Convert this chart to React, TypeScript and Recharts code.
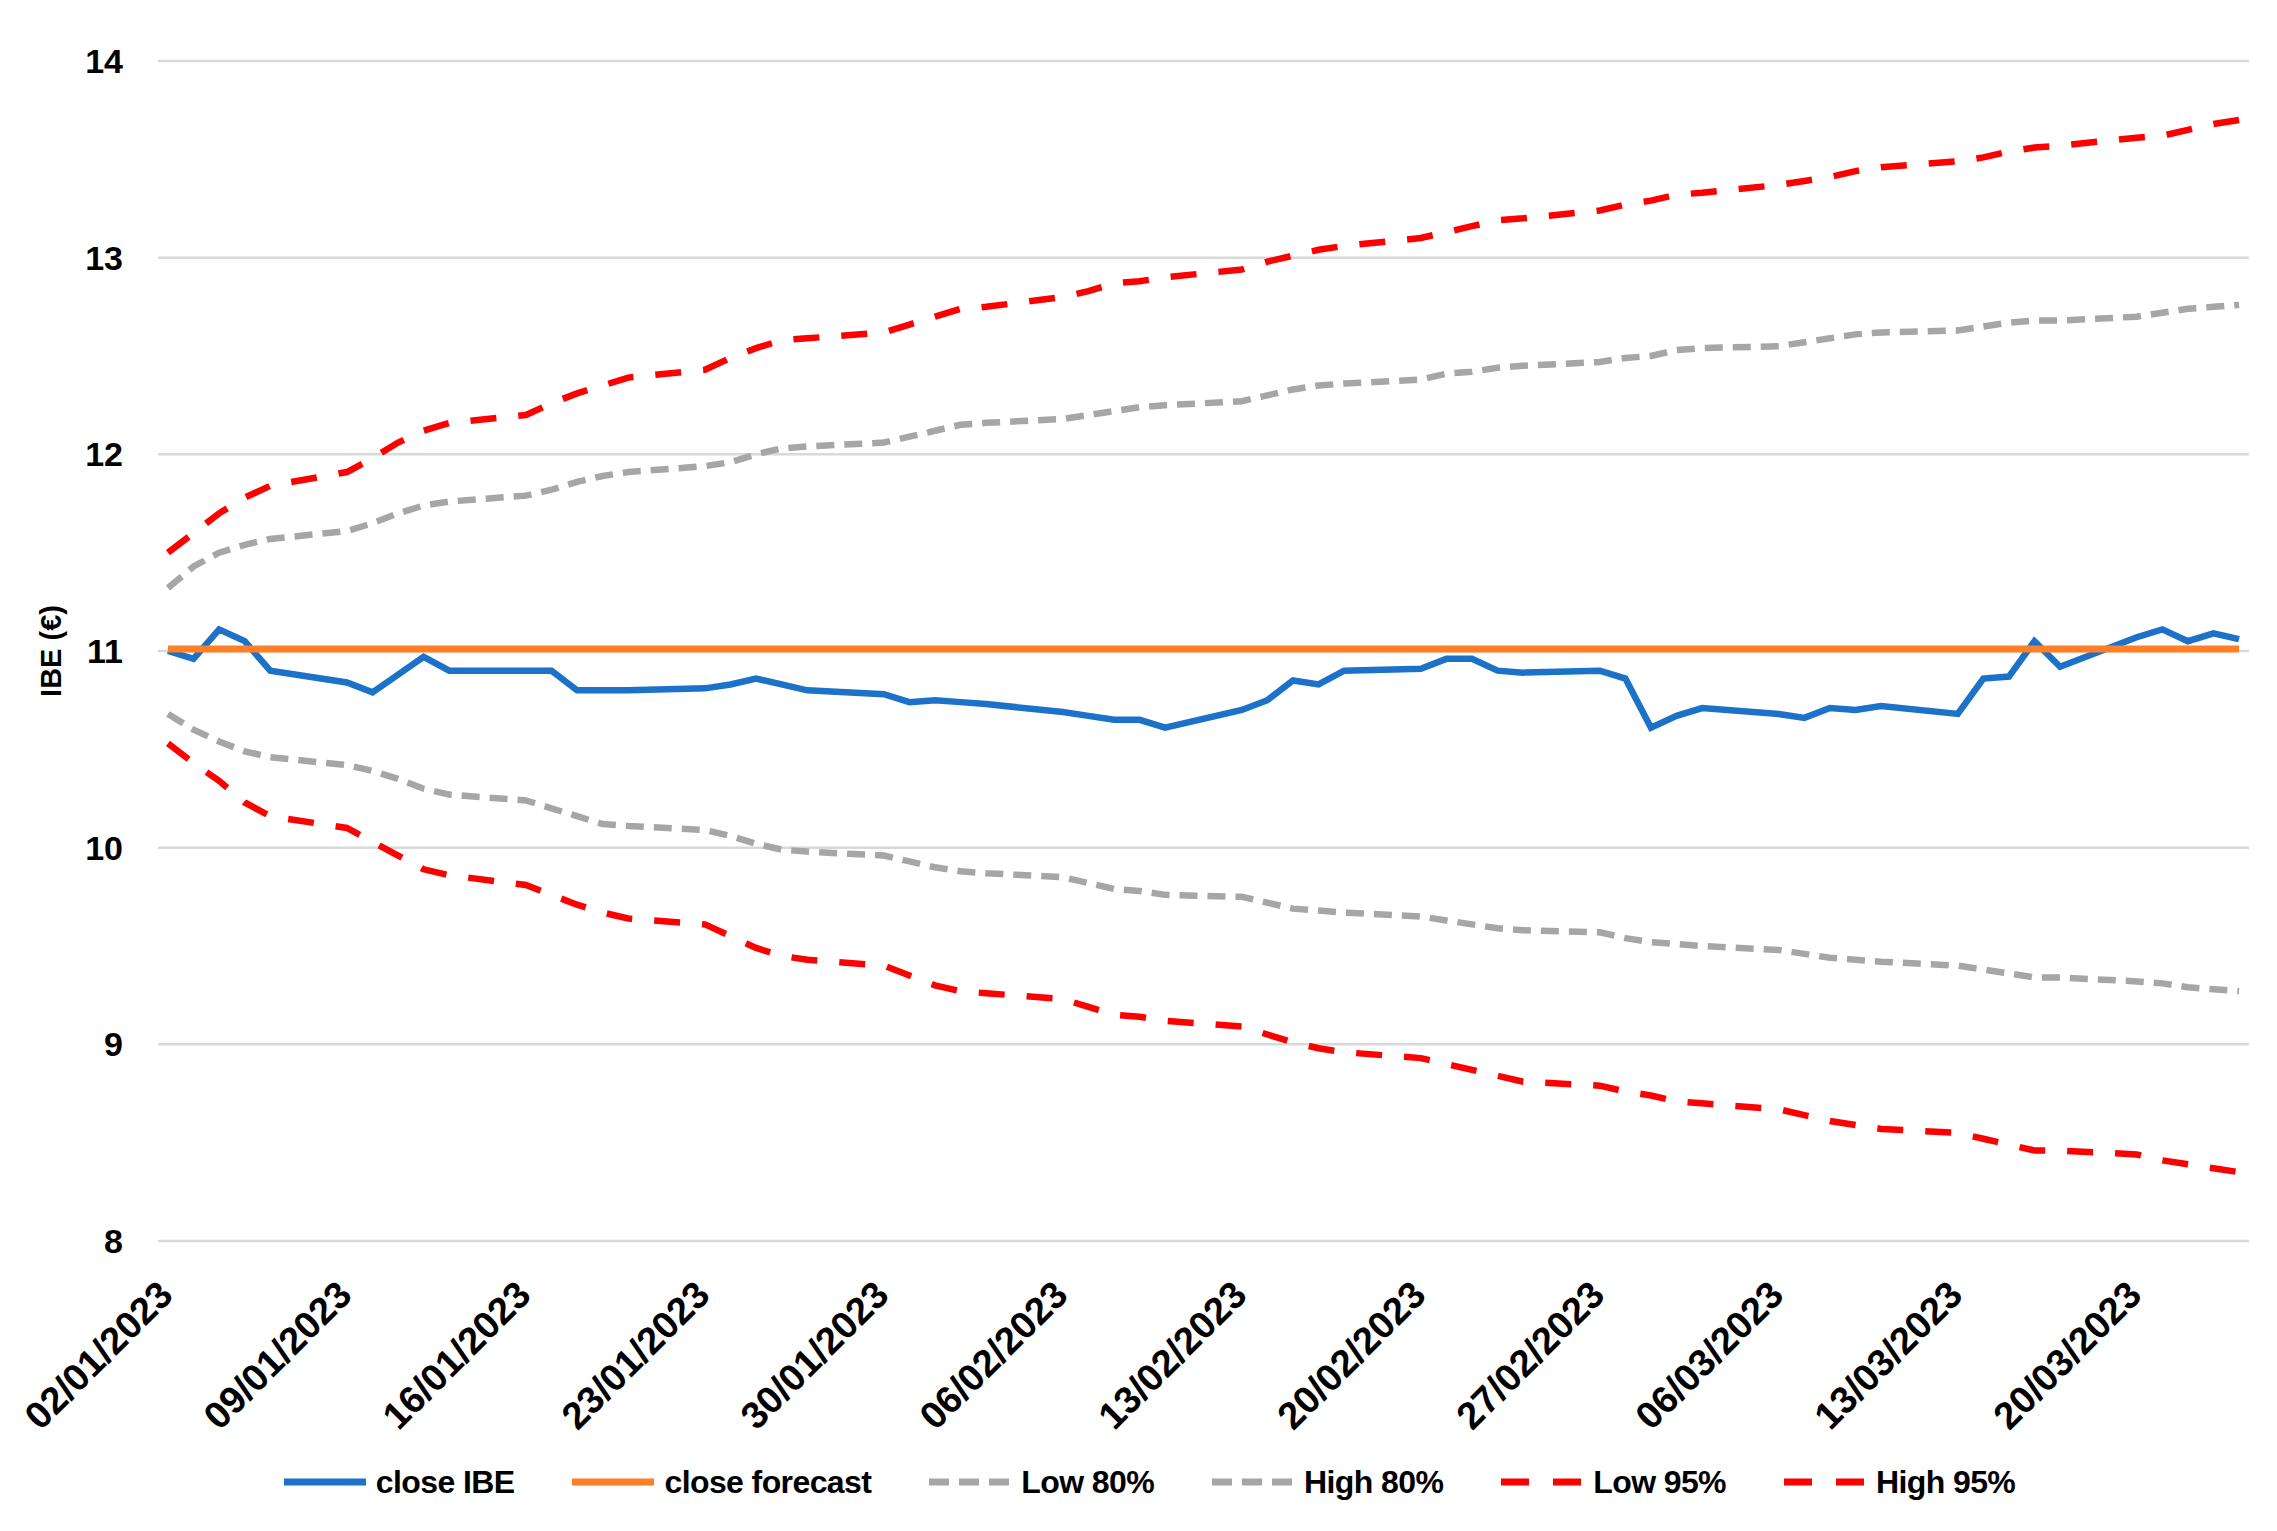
import React from 'react'
import { LineChart, Line, XAxis, YAxis, CartesianGrid, Legend, Label } from 'recharts'

// trading days shown in the chart (Excel date axis, weekends are gaps)
const tradingDates = [
  '02/01/2023', '03/01/2023', '04/01/2023', '05/01/2023', '06/01/2023',
  '09/01/2023', '10/01/2023', '11/01/2023', '12/01/2023', '13/01/2023',
  '16/01/2023', '17/01/2023', '18/01/2023', '19/01/2023', '20/01/2023',
  '23/01/2023', '24/01/2023', '25/01/2023', '26/01/2023', '27/01/2023',
  '30/01/2023', '31/01/2023', '01/02/2023', '02/02/2023', '03/02/2023',
  '06/02/2023', '07/02/2023', '08/02/2023', '09/02/2023', '10/02/2023',
  '13/02/2023', '14/02/2023', '15/02/2023', '16/02/2023', '17/02/2023',
  '20/02/2023', '21/02/2023', '22/02/2023', '23/02/2023', '24/02/2023',
  '27/02/2023', '28/02/2023', '01/03/2023', '02/03/2023', '03/03/2023',
  '06/03/2023', '07/03/2023', '08/03/2023', '09/03/2023', '10/03/2023',
  '13/03/2023', '14/03/2023', '15/03/2023', '16/03/2023', '17/03/2023',
  '20/03/2023', '21/03/2023', '22/03/2023', '23/03/2023', '24/03/2023',
]

const closeIBE = [
  11.0, 10.96, 11.11, 11.05, 10.9,
  10.84, 10.79, 10.88, 10.97, 10.9,
  10.9, 10.9, 10.8, 10.8, 10.8,
  10.81, 10.83, 10.86, 10.83, 10.8,
  10.78, 10.74, 10.75, 10.74, 10.73,
  10.69, 10.67, 10.65, 10.65, 10.61,
  10.7, 10.75, 10.85, 10.83, 10.9,
  10.91, 10.96, 10.96, 10.9, 10.89,
  10.9, 10.86, 10.61, 10.67, 10.71,
  10.68, 10.66, 10.71, 10.7, 10.72,
  10.68, 10.86, 10.87, 11.05, 10.92,
  11.07, 11.11, 11.05, 11.09, 11.06,
]

const closeForecast = tradingDates.map(() => 11.01)

const high95 = [
  11.5, 11.6, 11.7, 11.78, 11.84,
  11.91, 11.98, 12.06, 12.12, 12.16,
  12.2, 12.26, 12.31, 12.35, 12.39,
  12.43, 12.49, 12.54, 12.58, 12.59,
  12.62, 12.66, 12.7, 12.74, 12.75,
  12.8, 12.83, 12.87, 12.88, 12.9,
  12.94, 12.98, 13.01, 13.04, 13.06,
  13.1, 13.13, 13.16, 13.19, 13.2,
  13.24, 13.27, 13.29, 13.32, 13.33,
  13.37, 13.39, 13.41, 13.44, 13.46,
  13.49, 13.51, 13.54, 13.56, 13.57,
  13.61, 13.62, 13.65, 13.68, 13.7,
]

const high80 = [
  11.32, 11.43, 11.5, 11.54, 11.57,
  11.61, 11.65, 11.7, 11.74, 11.76,
  11.79, 11.82, 11.86, 11.89, 11.91,
  11.94, 11.96, 12.0, 12.03, 12.04,
  12.06, 12.09, 12.12, 12.15, 12.16,
  12.18, 12.2, 12.22, 12.24, 12.25,
  12.27, 12.3, 12.33, 12.35, 12.36,
  12.38, 12.41, 12.42, 12.44, 12.45,
  12.47, 12.49, 12.5, 12.53, 12.54,
  12.55, 12.57, 12.59, 12.61, 12.62,
  12.63, 12.65, 12.67, 12.68, 12.68,
  12.7, 12.72, 12.74, 12.75, 12.76,
]

const low80 = [
  10.68, 10.6, 10.54, 10.49, 10.46,
  10.42, 10.39, 10.35, 10.3, 10.27,
  10.24, 10.2, 10.16, 10.12, 10.11,
  10.09, 10.06, 10.02, 9.99, 9.98,
  9.96, 9.93, 9.9, 9.88, 9.87,
  9.85, 9.82, 9.79, 9.78, 9.76,
  9.75, 9.72, 9.69, 9.68, 9.67,
  9.65, 9.63, 9.61, 9.59, 9.58,
  9.57, 9.54, 9.52, 9.51, 9.5,
  9.48, 9.46, 9.44, 9.43, 9.42,
  9.4, 9.38, 9.36, 9.34, 9.34,
  9.32, 9.31, 9.29, 9.28, 9.27,
]

const low95 = [
  10.53, 10.43, 10.34, 10.23, 10.16,
  10.1, 10.03, 9.96, 9.89, 9.86,
  9.81, 9.76, 9.71, 9.67, 9.64,
  9.61, 9.55, 9.49, 9.45, 9.43,
  9.4, 9.35, 9.3, 9.27, 9.26,
  9.23, 9.19, 9.15, 9.14, 9.12,
  9.09, 9.05, 9.01, 8.98, 8.96,
  8.93, 8.9, 8.87, 8.84, 8.81,
  8.79, 8.76, 8.74, 8.71, 8.7,
  8.67, 8.64, 8.61, 8.59, 8.57,
  8.55, 8.52, 8.49, 8.46, 8.46,
  8.44, 8.41, 8.39, 8.37, 8.35,
]

const tickLabels = [
  '02/01/2023', '09/01/2023', '16/01/2023', '23/01/2023', '30/01/2023', '06/02/2023',
  '13/02/2023', '20/02/2023', '27/02/2023', '06/03/2023', '13/03/2023', '20/03/2023',
]

const yTicks = [8, 9, 10, 11, 12, 13, 14]

const DAY = 86400000
const parseDMY = (s: string) => {
  const [dd, mm, yy] = s.split('/').map(Number)
  return Date.UTC(yy, mm - 1, dd)
}
const origin = parseDMY(tradingDates[0])
const dayIndex = (s: string) => Math.round((parseDMY(s) - origin) / DAY)

const data = tradingDates.map((d, i) => ({
  day: dayIndex(d),
  closeIBE: closeIBE[i],
  closeForecast: closeForecast[i],
  low80: low80[i],
  high80: high80[i],
  low95: low95[i],
  high95: high95[i],
}))

const tickDays = tickLabels.map(dayIndex)
const lastDay = dayIndex(tradingDates[tradingDates.length - 1])

const FONT = "'Liberation Sans', Arial, sans-serif"

const BLUE = '#1c71c9'
const ORANGE = '#ff7f27'
const GREY = '#a6a6a6'
const RED = '#ff0000'

const legendItems = [
  { label: 'close IBE', color: BLUE, dash: undefined },
  { label: 'close forecast', color: ORANGE, dash: undefined },
  { label: 'Low 80%', color: GREY, dash: '20 10' },
  { label: 'High 80%', color: GREY, dash: '20 10' },
  { label: 'Low 95%', color: RED, dash: '28 24' },
  { label: 'High 95%', color: RED, dash: '28 24' },
]

function DateTick(props: any) {
  const { x, y, payload } = props
  const ax = x + 7
  const ay = y + 56
  const idx = tickDays.indexOf(payload.value)
  return (
    <text
      x={ax}
      y={ay}
      transform={`rotate(-45 ${ax} ${ay})`}
      textAnchor="end"
      fontFamily={FONT}
      fontWeight="bold"
      fontSize={38}
      fill="#000"
    >
      {idx >= 0 ? tickLabels[idx] : ''}
    </text>
  )
}

function ChartLegend() {
  return (
    <div
      style={{
        display: 'flex',
        justifyContent: 'center',
        alignItems: 'center',
        gap: 58,
        height: 100,
        paddingLeft: 50,
        paddingTop: 2,
        boxSizing: 'border-box',
        fontFamily: FONT,
        fontWeight: 'bold',
        fontSize: 32,
        letterSpacing: -0.6,
        color: '#000',
      }}
    >
      {legendItems.map((item) => (
        <div key={item.label} style={{ display: 'flex', alignItems: 'center' }}>
          <svg width={82} height={14} style={{ marginRight: 10 }}>
            <line
              x1={0}
              y1={7}
              x2={82}
              y2={7}
              stroke={item.color}
              strokeWidth={7}
              strokeDasharray={item.dash}
            />
          </svg>
          <span>{item.label}</span>
        </div>
      ))}
    </div>
  )
}

export default function App() {
  return (
    <div style={{ width: 2277, height: 1531, background: '#fff' }}>
      <style>{'body{margin:0;}'}</style>
      <LineChart
        width={2277}
        height={1531}
        data={data}
        margin={{ top: 61, right: 28, left: 0, bottom: 0 }}
      >
        <CartesianGrid vertical={false} stroke="#d9d9d9" strokeWidth={2.5} />
        <XAxis
          dataKey="day"
          type="number"
          domain={[-0.39, lastDay + 0.39]}
          ticks={tickDays}
          tick={<DateTick />}
          tickLine={false}
          axisLine={false}
          tickSize={0}
          tickMargin={0}
          height={190}
          interval={0}
          allowDataOverflow
        />
        <YAxis
          domain={[8, 14]}
          ticks={yTicks}
          width={158}
          tickLine={false}
          axisLine={false}
          tickSize={0}
          tickMargin={35}
          tick={{ fontFamily: FONT, fontWeight: 'bold', fontSize: 34, fill: '#000' }}
        >
          <Label
            content={() => (
              <text
                x={51}
                y={651}
                transform="rotate(-90 51 651)"
                textAnchor="middle"
                dominantBaseline="central"
                fontFamily={FONT}
                fontWeight="bold"
                fontSize={29}
                fill="#000"
              >
                IBE (€)
              </text>
            )}
          />
        </YAxis>
        <Legend verticalAlign="bottom" height={100} content={<ChartLegend />} />
        <Line type="linear" dataKey="closeIBE" stroke={BLUE} strokeWidth={6.5} dot={false} isAnimationActive={false} />
        <Line type="linear" dataKey="closeForecast" stroke={ORANGE} strokeWidth={7} dot={false} isAnimationActive={false} />
        <Line type="linear" dataKey="low80" stroke={GREY} strokeWidth={6.5} strokeDasharray="18 10" dot={false} isAnimationActive={false} />
        <Line type="linear" dataKey="high80" stroke={GREY} strokeWidth={6.5} strokeDasharray="18 10" dot={false} isAnimationActive={false} />
        <Line type="linear" dataKey="low95" stroke={RED} strokeWidth={6.5} strokeDasharray="26 22" dot={false} isAnimationActive={false} />
        <Line type="linear" dataKey="high95" stroke={RED} strokeWidth={6.5} strokeDasharray="26 22" dot={false} isAnimationActive={false} />
      </LineChart>
    </div>
  )
}
